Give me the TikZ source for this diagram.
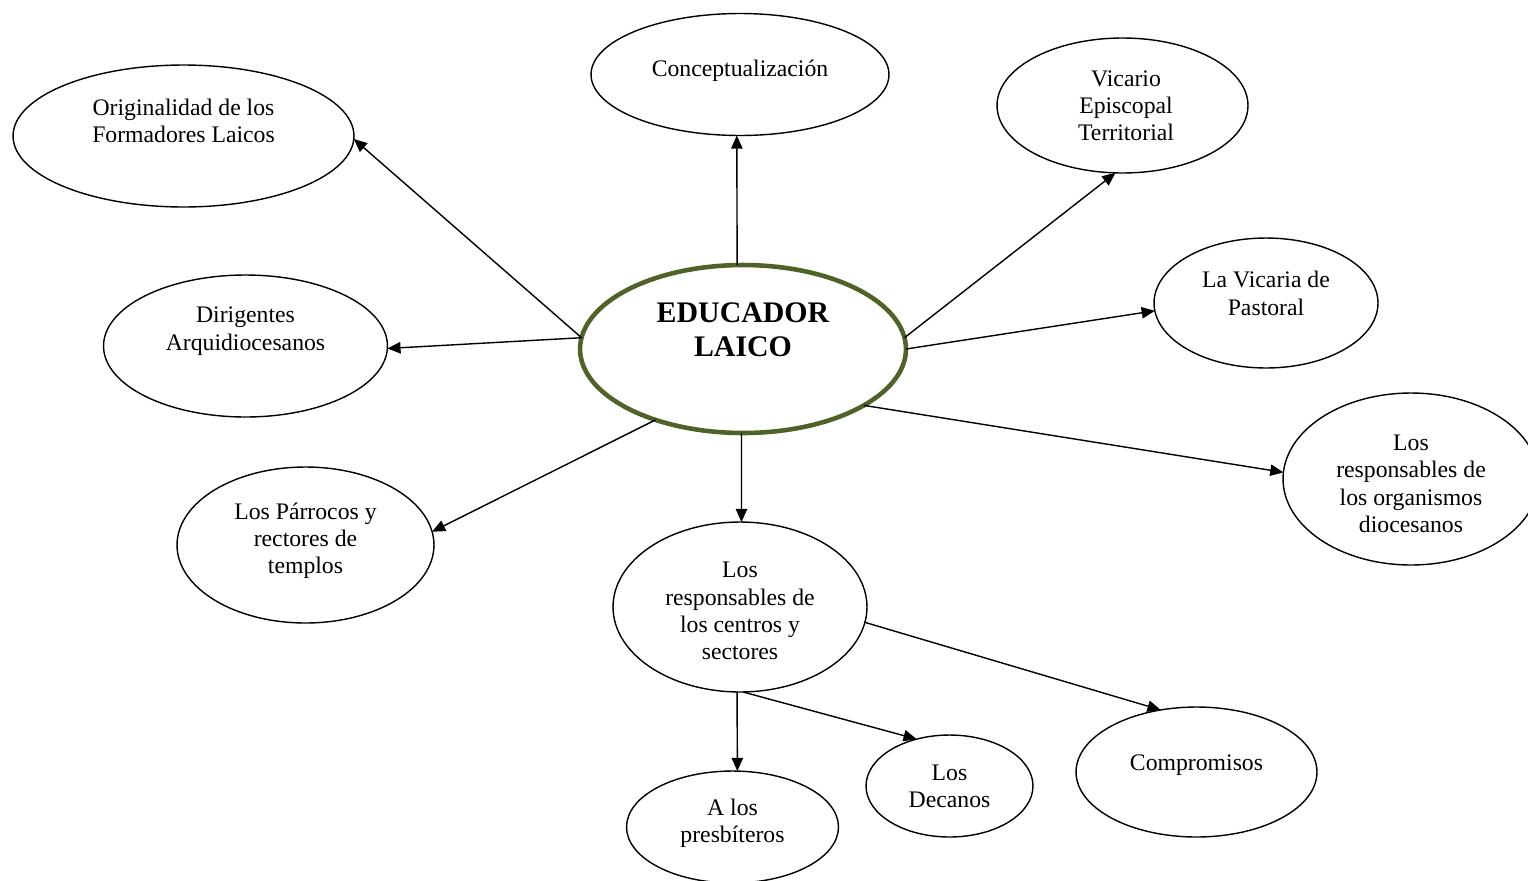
\documentclass[tikz,border=0pt]{standalone}
\usepackage{fontspec}
\setmainfont{Liberation Serif}
\usetikzlibrary{shapes.geometric,arrows.meta}
\definecolor{olivo}{HTML}{4F6228}
\tikzset{
  bub/.style 2 args={ellipse,draw,line width=0.8pt,minimum width=#1,minimum height=#2,inner sep=0pt,outer sep=0pt},
  txt/.style={align=center,font=\fontsize{13.5}{15.5}\selectfont},
  arr/.style={-{Triangle[length=7.5pt,width=6.5pt]},line width=0.8pt}
}

\begin{document}
\begin{tikzpicture}[x=0.02cm,y=-0.02cm]
\useasboundingbox (0,0) rectangle (1528,880);

% Central node
\node[bub={6.52cm}{3.36cm},draw=olivo,line width=2.6pt,
  label={[align=center,font=\fontsize{17}{19.5}\selectfont\bfseries,yshift=10.8pt]center:EDUCADOR\\LAICO}] (edu) at (743,349) {};

% Outer nodes
\node[bub={5.96cm}{2.44cm},label={[txt,yshift=2pt]center:Conceptualización}] (concep) at (740,74.5) {};
\node[bub={6.82cm}{2.84cm},label={[txt,yshift=8.5pt]center:Originalidad de los\\Formadores Laicos}] (orig) at (183.5,136) {};
\node[bub={5.02cm}{2.70cm},label={[txt,xshift=2pt]center:Vicario\\Episcopal\\Territorial}] (vicep) at (1122.5,105.5) {};
\node[bub={4.48cm}{2.60cm},label={[txt,yshift=5.5pt]center:La Vicaria de\\Pastoral}] (vicpas) at (1266,303) {};
\node[bub={5.68cm}{2.84cm},label={[txt,yshift=8.5pt]center:Dirigentes\\Arquidiocesanos}] (dirig) at (245.5,346) {};
\node[bub={5.14cm}{3.12cm},label={[txt,yshift=2.3pt]center:Los Párrocos y\\rectores de\\templos}] (parr) at (305.5,545) {};
\node[bub={5.12cm}{3.44cm},label={[txt,yshift=-2.8pt]center:Los\\responsables de\\los organismos\\diocesanos}] (organ) at (1411,479) {};
\node[bub={5.08cm}{3.40cm},label={[txt,yshift=-2.3pt]center:Los\\responsables de\\los centros y\\sectores}] (centros) at (740,607) {};

% Lower nodes
\node[bub={4.82cm}{2.60cm},label={[txt,yshift=4pt]center:Compromisos}] (compr) at (1196.5,772) {};
\node[bub={3.34cm}{2.04cm},label={[txt]center:Los\\Decanos}] (decan) at (949.5,786) {};
\node[bub={4.24cm}{2.24cm},label={[txt,yshift=2.3pt]center:A los\\presbíteros}] (presb) at (732.5,827) {};

% Arrows
\draw[arr] (edu.94) -- (concep.-93);
\draw[arr] (edu.176) -- (orig.-1);
\draw[arr] (edu.176) -- (dirig.-1);
\draw[arr] (edu.219) -- (parr.6);
\draw[arr] (edu.-91) -- (centros.89);
\draw[arr] (edu.-25) -- (organ.177);
\draw[arr] (edu.0) -- (vicpas.184);
\draw[arr] (edu.4) -- (vicep.-96);
\draw[arr] (centros.-7) -- (compr.120);
\draw[arr] (centros.-88) -- (decan.125);
\draw[arr] (centros.-92) -- (presb.85);

\end{tikzpicture}
\end{document}
